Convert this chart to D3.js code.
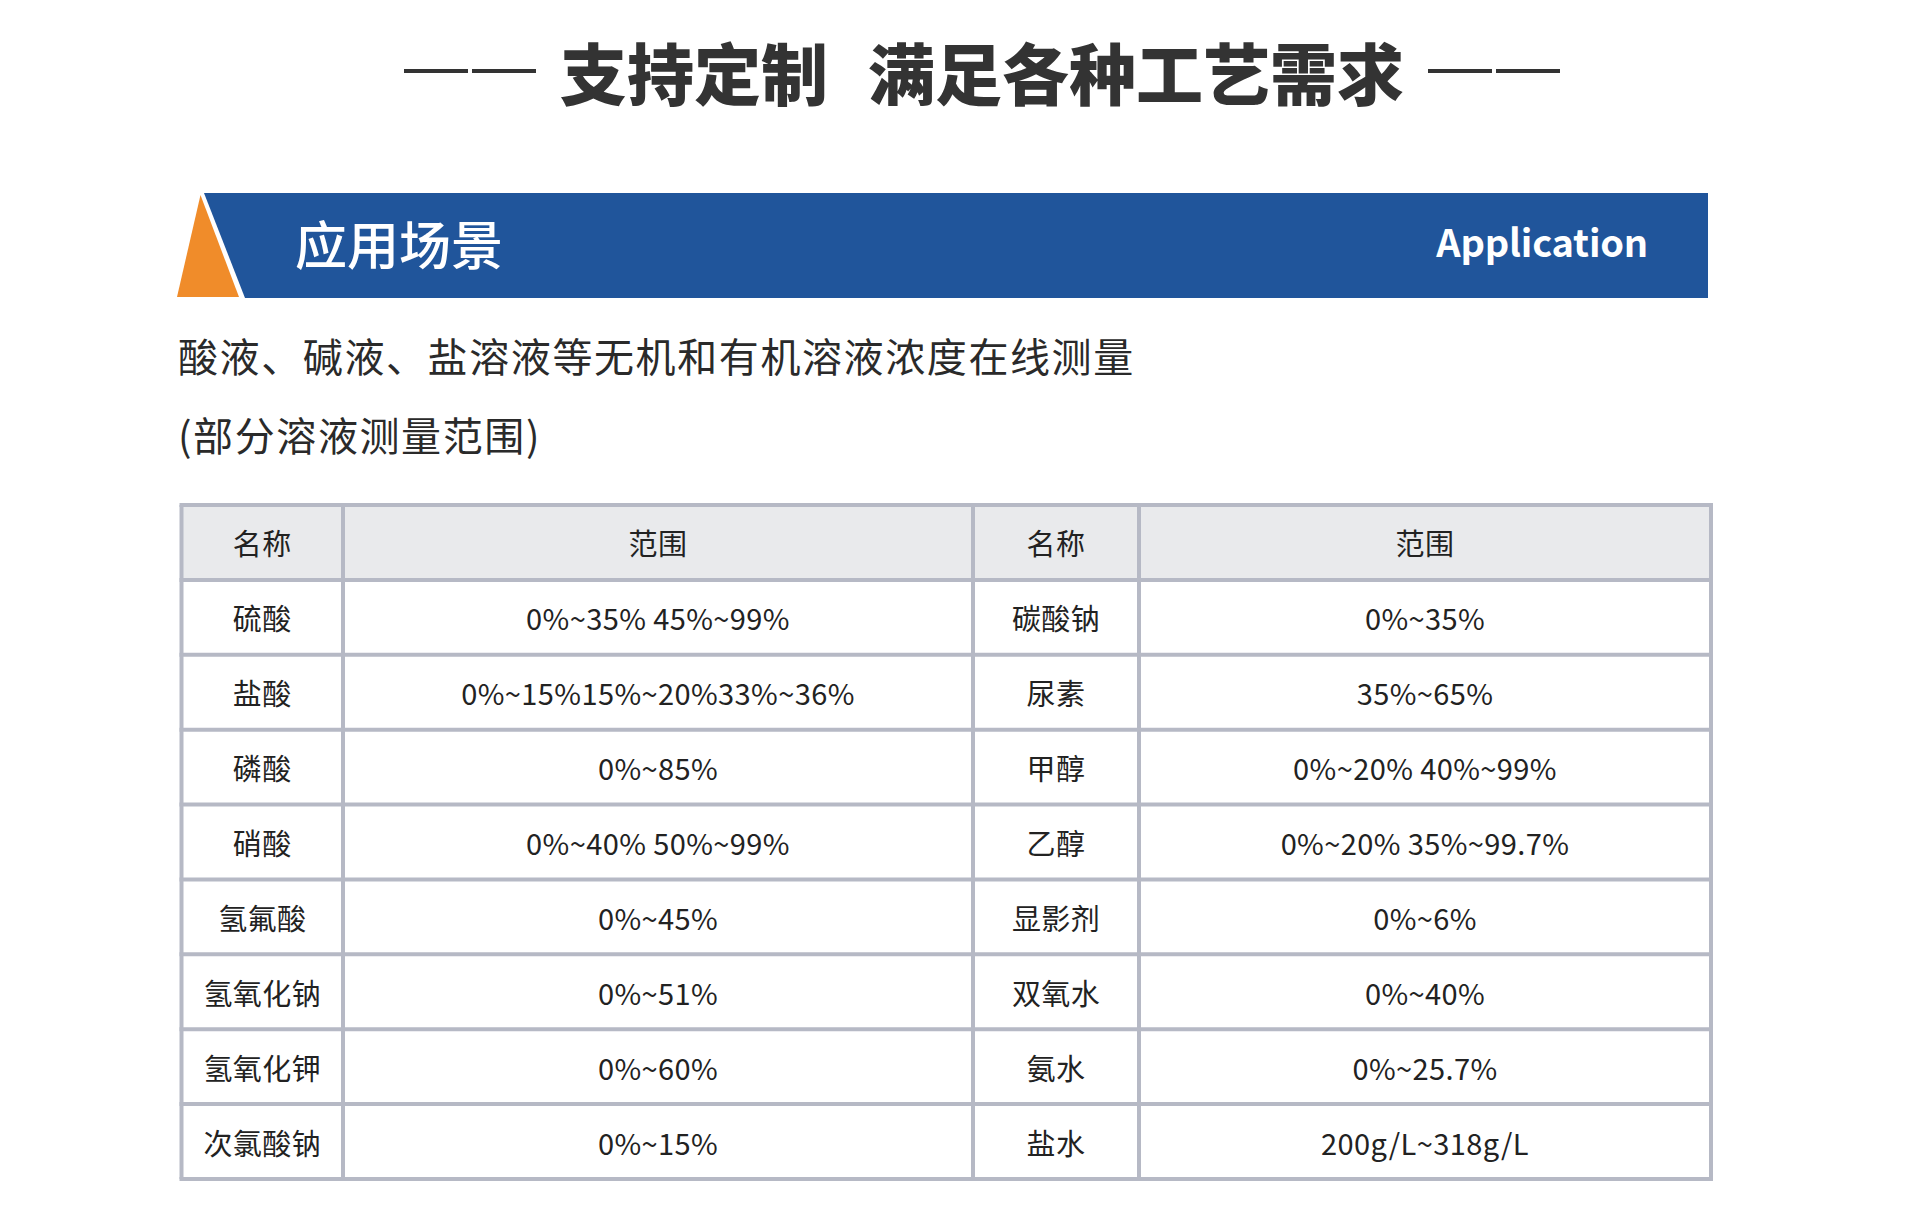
<!DOCTYPE html>
<html>
<head>
<meta charset="utf-8">
<script src="https://cdn.jsdelivr.net/npm/d3@7"></script>
<style>
  html, body { margin: 0; padding: 0; background: #fff; }
  svg { display: block; }
  text { font-family: "Noto Sans CJK SC", "Noto Sans", sans-serif; }
</style>
</head>
<body>
<svg id="chart"></svg>
<script>
// Table content
const headers = ["名称", "范围", "名称", "范围"];
const namesLeft = ["硫酸", "盐酸", "磷酸", "硝酸", "氢氟酸", "氢氧化钠", "氢氧化钾", "次氯酸钠"];
const rangesLeft = ["0%~35% 45%~99%", "0%~15%15%~20%33%~36%", "0%~85%", "0%~40% 50%~99%",
                    "0%~45%", "0%~51%", "0%~60%", "0%~15%"];
const namesRight = ["碳酸钠", "尿素", "甲醇", "乙醇", "显影剂", "双氧水", "氨水", "盐水"];
const rangesRight = ["0%~35%", "35%~65%", "0%~20% 40%~99%", "0%~20% 35%~99.7%",
                     "0%~6%", "0%~40%", "0%~25.7%", "200g/L~318g/L"];

const titleLeft = "支持定制";
const titleRight = "满足各种工艺需求";
const bannerCn = "应用场景";
const bannerEn = "Application";
const introLines = ["酸液、碱液、盐溶液等无机和有机溶液浓度在线测量", "(部分溶液测量范围)"];

const width = 1920, height = 1232;
const svg = d3.select("#chart").attr("width", width).attr("height", height);

// ---- title with dashes
const title = svg.append("text")
    .attr("x", 982).attr("y", 70)
    .attr("text-anchor", "middle")
    .attr("dominant-baseline", "central")
    .style("font-size", "67px").style("font-weight", 900)
    .style("fill", "#333");
title.append("tspan").text(titleLeft);
title.append("tspan").attr("dx", 40).text(titleRight);

const tb = title.node().getBBox();
const dashW = 64, dashGap = 4, sideGap = 24;
[[tb.x - sideGap - 2 * dashW - dashGap, tb.x - sideGap - dashW],
 [tb.x + tb.width + sideGap, tb.x + tb.width + sideGap + dashW + dashGap]].forEach(([a, b]) => {
    [a, b].forEach(x0 => {
        svg.append("line")
            .attr("x1", x0).attr("x2", x0 + dashW)
            .attr("y1", 71).attr("y2", 71)
            .attr("stroke", "#333").attr("stroke-width", 4);
    });
});

// ---- banner
svg.append("path")
    .attr("d", "M204,193 L1708,193 L1708,298 L245,298 Z")
    .attr("fill", "#20559B");
svg.append("path")
    .attr("d", "M200.5,195 L239,297 L177,297 Z")
    .attr("fill", "#F08C2A");
svg.append("text")
    .attr("x", 295).attr("y", 242)
    .attr("dominant-baseline", "central")
    .style("font-size", "52px").style("font-weight", 500)
    .style("fill", "#fff")
    .text(bannerCn);
svg.append("text")
    .attr("x", 1648).attr("y", 257)
    .attr("text-anchor", "end")
    .style("font-size", "38px").style("font-weight", 700)
    .style("letter-spacing", "-0.2px")
    .style("fill", "#fff")
    .text(bannerEn);

// ---- intro lines
svg.selectAll(".intro")
    .data(introLines)
    .enter().append("text")
    .attr("class", "intro")
    .attr("x", 178)
    .attr("y", (d, i) => i === 0 ? 355 : 434)
    .attr("dominant-baseline", "central")
    .style("font-size", "40px")
    .style("letter-spacing", "1.6px")
    .style("fill", "#2a2a2a")
    .text(d => d);

// ---- table
const colEdges = [181.5, 343, 973, 1139, 1711];
const rowIdx = d3.range(namesLeft.length + 1);
const y = d3.scaleBand().domain(rowIdx).range([505, 1179]).padding(0);
const colX = i => (colEdges[i] + colEdges[i + 1]) / 2;

const rows = rowIdx.map(i => i === 0
    ? headers
    : [namesLeft[i - 1], rangesLeft[i - 1], namesRight[i - 1], rangesRight[i - 1]]);

const table = svg.append("g").attr("class", "table");

table.append("rect")
    .attr("x", colEdges[0]).attr("y", y(0))
    .attr("width", colEdges[4] - colEdges[0]).attr("height", y.bandwidth())
    .attr("fill", "#E9EAEC");

const cells = table.selectAll(".row")
    .data(rows)
    .enter().append("g")
    .attr("class", "row")
    .attr("transform", (d, i) => `translate(0,${y(i) + y.bandwidth() / 2})`);

cells.selectAll("text")
    .data(d => d)
    .enter().append("text")
    .attr("x", (d, j) => colX(j))
    .attr("y", 0)
    .attr("text-anchor", "middle")
    .attr("dominant-baseline", "central")
    .style("font-size", "29px")
    .style("letter-spacing", "0.4px")
    .style("fill", "#222")
    .text(d => d);

const gridColor = "#B6B9C5";
table.selectAll(".hline")
    .data(d3.range(rowIdx.length + 1))
    .enter().append("line")
    .attr("x1", colEdges[0] - 2).attr("x2", colEdges[4] + 2)
    .attr("y1", i => i < rowIdx.length ? y(i) : y.range()[1])
    .attr("y2", i => i < rowIdx.length ? y(i) : y.range()[1])
    .attr("stroke", gridColor).attr("stroke-width", 4);

table.selectAll(".vline")
    .data(colEdges)
    .enter().append("line")
    .attr("x1", d => d).attr("x2", d => d)
    .attr("y1", y.range()[0]).attr("y2", y.range()[1])
    .attr("stroke", gridColor).attr("stroke-width", 4);
</script>
</body>
</html>
